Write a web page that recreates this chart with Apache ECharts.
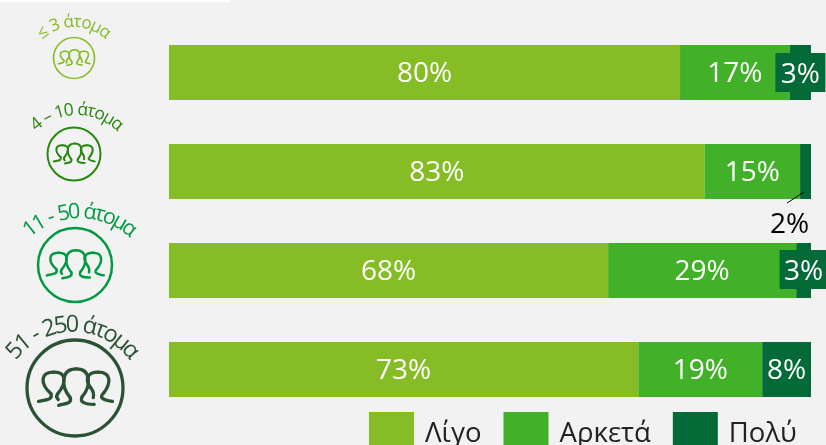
<!DOCTYPE html>
<html><head><meta charset="utf-8">
<style>html,body{margin:0;padding:0;background:#f2f2f2}#c{width:826px;height:445px}</style>
<script src="https://cdn.jsdelivr.net/npm/echarts@6/dist/echarts.min.js"></script></head>
<body><div id="c"></div>
<script>
const categories = ['≤ 3 άτομα', '4 – 10 άτομα', '11 - 50 άτομα', '51 - 250 άτομα'];
const seriesNames = ['Λίγο', 'Αρκετά', 'Πολύ'];
const ligo = [79.6, 83.4, 68.4, 73.1];
const arketa = [17.1, 14.9, 29.3, 19.3];
const poly = [3.3, 1.7, 2.5, 7.6];

const colors = ['#86bc25', '#43b02a', '#046a38'];
const FONT = '"Open Sans", "Noto Sans", sans-serif';
const chart = echarts.init(document.getElementById('c'), null, {renderer: 'canvas'});

const fmt = p => Math.round(p.value) + '%';
const boxed = (w, dy) => ({
  formatter: p => '{s| }\n{v|' + Math.round(p.value) + '%}',
  backgroundColor: colors[2], offset: [0, dy], padding: 0,
  rich: {
    s: {width: w, height: 5, lineHeight: 5, fontSize: 1},
    v: {width: w, height: 34, lineHeight: 34, align: 'center', color: '#fff', fontFamily: FONT, fontSize: 28}
  }
});
function polyData() {
  return poly.map((v, i) => {
    if (i === 0) return {value: v, label: boxed(50, 0)};
    if (i === 2) return {value: v, label: boxed(48, -1)};
    if (i === 1) return {value: v, label: {color: '#000', offset: [-16, 54]}};
    return v;
  });
}
const iconCfg = [
  {cx: 74, cy: 58, r: 20.5, lw: 1.6, c: '#86bc25', fs: 17, ac: [74, 73], R: 51, span: 43},
  {cx: 74, cy: 154, r: 26.5, lw: 2, c: '#26890d', fs: 17.5, ac: [77, 173], R: 63, span: 44},
  {cx: 75, cy: 265, r: 37, lw: 2.5, c: '#009a44', fs: 21.5, ac: [80, 292], R: 80, span: 42},
  {cx: 75, cy: 388, r: 48, lw: 3.3, c: '#2c5234', fs: 23.5, ac: [73, 402], R: 77, span: 53}
];
// icon curves in units of the circle's radius, relative to its centre
const curves = [
  [[-0.76,0.28],[-0.58,0.24],[-0.46,0.24],[-0.50,0.12]],
  [[-0.50,0.12],[-0.74,-0.10],[-0.72,-0.33],[-0.44,-0.33]],
  [[-0.44,-0.33],[-0.16,-0.33],[-0.18,-0.10],[-0.36,0.12]],
  [[-0.36,0.12],[-0.39,0.16],[-0.39,0.20],[-0.35,0.24]],
  [[-0.34,0.36],[-0.18,0.32],[-0.06,0.32],[-0.10,0.20]],
  [[-0.10,0.20],[-0.30,-0.04],[-0.30,-0.40],[0.03,-0.40]],
  [[0.03,-0.40],[0.34,-0.40],[0.34,-0.04],[0.15,0.18]],
  [[0.15,0.18],[0.08,0.30],[0.22,0.34],[0.40,0.34]],
  [[0.38,0.20],[0.40,0.12],[0.38,0.06],[0.33,0.0]],
  [[0.33,0.0],[0.18,-0.20],[0.28,-0.33],[0.48,-0.33]],
  [[0.48,-0.33],[0.78,-0.33],[0.74,-0.08],[0.60,0.10]],
  [[0.60,0.10],[0.50,0.20],[0.56,0.24],[0.78,0.28]]
];
const mctx = document.createElement('canvas').getContext('2d');
function graphics() {
  const g = [{type: 'rect', shape: {x: 0, y: 0, width: 230, height: 2}, style: {fill: '#ffffff'}, silent: true},
    {type: 'line', shape: {x1: 804, y1: 192, x2: 787, y2: 203}, style: {stroke: '#000', lineWidth: 1}, z: 10, silent: true}];
  iconCfg.forEach((k, i) => {
    g.push({type: 'circle', shape: {cx: k.cx, cy: k.cy, r: k.r}, style: {fill: 'none', stroke: k.c, lineWidth: k.lw}, silent: true});
    curves.forEach(s => {
      const p = s.map(q => [k.cx + q[0] * k.r, k.cy + q[1] * k.r]);
      g.push({type: 'bezierCurve', shape: {x1: p[0][0], y1: p[0][1], cpx1: p[1][0], cpy1: p[1][1], cpx2: p[2][0], cpy2: p[2][1], x2: p[3][0], y2: p[3][1]},
        style: {fill: 'none', stroke: k.c, lineWidth: k.lw, lineCap: 'round'}, silent: true});
    });
    // text along an arc
    mctx.font = k.fs + 'px "Open Sans"';
    const chars = Array.from(categories[i]);
    const widths = chars.map(ch => mctx.measureText(ch).width);
    const total = widths.reduce((a, b) => a + b, 0);
    const scaleSpace = (2 * k.span * Math.PI / 180 * k.R) / total;
    let run = -k.span * Math.PI / 180;
    chars.forEach((ch, j) => {
      const half = widths[j] * scaleSpace / 2 / k.R;
      const a = run + half;
      run += 2 * half;
      g.push({type: 'text', x: k.ac[0] + k.R * Math.sin(a), y: k.ac[1] - k.R * Math.cos(a), rotation: -a,
        style: {text: ch, fill: k.c, font: k.fs + 'px "Open Sans"', align: 'center', verticalAlign: 'middle'}, silent: true});
    });
  });
  return g;
}
chart.setOption({
  animation: false,
  backgroundColor: '#f2f2f2',
  color: colors,
  grid: {left: 169, width: 642, top: 23, height: 396},
  xAxis: {type: 'value', min: 0, max: 100, show: false},
  yAxis: {type: 'category', data: categories, inverse: true, show: false},
  legend: {
    data: seriesNames, left: 369, top: 412, padding: 0, itemWidth: 45, itemHeight: 45, itemGap: 22, icon: 'rect',
    textStyle: {fontFamily: FONT, fontSize: 27.5, color: '#222', padding: [0, 0, 0, 6]}
  },
  series: [
    {name: seriesNames[0], data: ligo},
    {name: seriesNames[1], data: arketa},
    {name: seriesNames[2], data: polyData(), z: 5}
  ].map(s => Object.assign({
    type: 'bar', stack: 'a', barWidth: 55,
    label: {show: true, position: 'inside', color: '#fff', fontFamily: FONT, fontSize: 28, formatter: fmt, offset: [0, 2]}
  }, s)),
  graphic: graphics()
});
</script></body></html>
